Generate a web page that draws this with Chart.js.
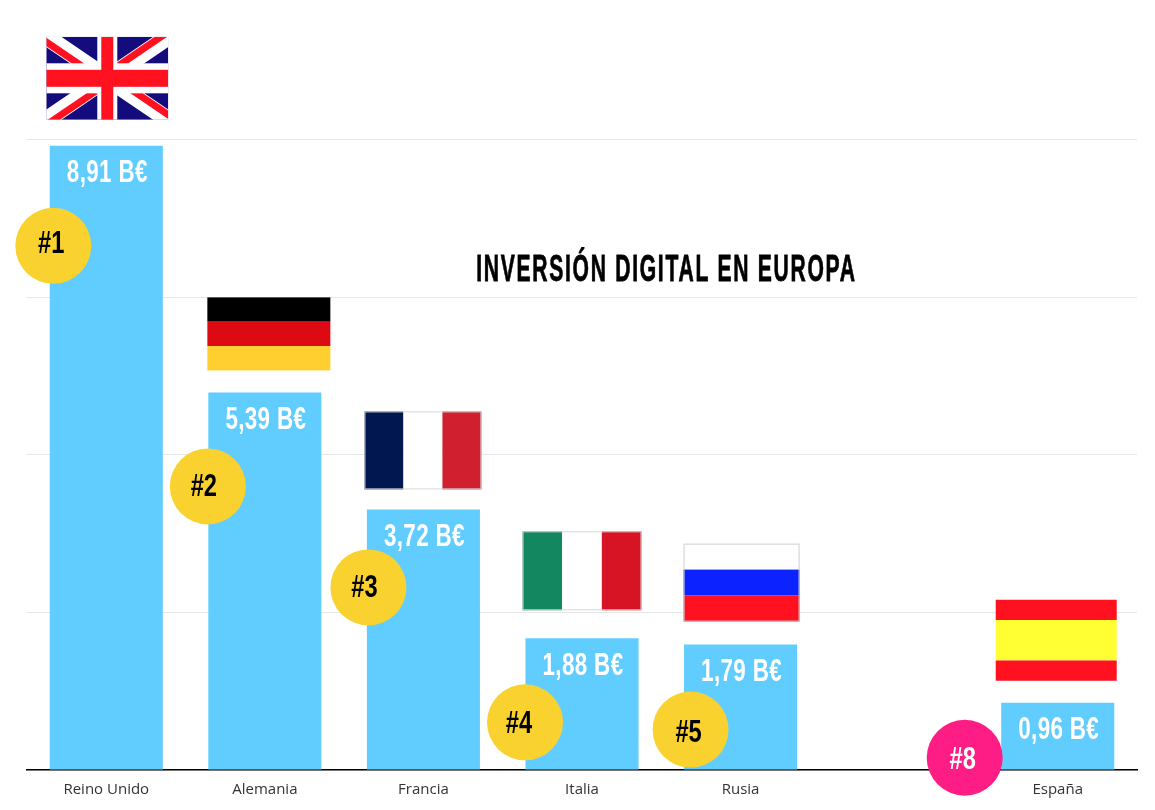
<!DOCTYPE html>
<html lang="es">
<head>
<meta charset="utf-8">
<title>Inversión digital en Europa</title>
<script src="https://cdn.jsdelivr.net/npm/chart.js@4/dist/chart.umd.min.js"></script>
<style>
  html, body { margin: 0; padding: 0; background: #fff; }
  canvas { display: block; }
</style>
</head>
<body>
<canvas id="grafico-inversion" width="1155" height="810"></canvas>
<script>
const paises = ['Reino Unido', 'Alemania', 'Francia', 'Italia', 'Rusia', '', 'España'];
const inversion = [8.91, 5.39, 3.72, 1.88, 1.79, null, 0.96];
const puestos = ['#1', '#2', '#3', '#4', '#5', '', '#8'];
const banderas = ['uk', 'de', 'fr', 'it', 'ru', '', 'es'];
const titulo = 'INVERSIÓN DIGITAL EN EUROPA';

const AZUL_BARRA = '#61cdff';
const AMARILLO = '#f9d22f';
const ROSA = '#fe1c85';

// Ajustes respecto a la barra: [dx, distancia sobre la barra, ancho, alto]
const ajusteBandera = {
  uk: [1, 26, 122, 83],
  de: [4, 22, 123, 73],
  fr: [-0.5, 20, 117, 78],
  it: [0, 28, 119, 79],
  ru: [1, 23, 116, 78],
  es: [-1.5, 22, 121, 81]
};
// Insignia: [dx, dy desde el tope de la barra, dx texto, dy texto]
const ajustePuesto = [
  [-53, 100, -2, -2],
  [-57, 94, -4, 1],
  [-55, 78, -4, 1],
  [-57, 84, -6, 2],
  [-50, 85, -2, 4],
  null,
  [-93, 55, -2, 2]
];

// Texto condensado (imita la tipografía estrecha del original)
function textoEstrecho(ctx, texto, x, y, tam, color, escala, espacio, grosor) {
  ctx.save();
  ctx.translate(x, y);
  ctx.scale(escala, 1);
  ctx.font = 'bold ' + tam + 'px "Liberation Sans"';
  ctx.letterSpacing = (espacio || 0) + 'px';
  ctx.textAlign = 'center';
  ctx.textBaseline = 'middle';
  ctx.fillStyle = color;
  ctx.fillText(texto, 0, 0);
  if (grosor) {
    ctx.strokeStyle = color;
    ctx.lineWidth = grosor;
    ctx.strokeText(texto, 0, 0);
  }
  ctx.restore();
}

function franjasV(ctx, x, y, w, h, colores) {
  colores.forEach(function(c, i) {
    ctx.fillStyle = c;
    ctx.fillRect(x + w * i / 3, y, w / 3, h);
  });
  ctx.strokeStyle = '#d8d8d8';
  ctx.lineWidth = 1;
  ctx.strokeRect(x + 0.5, y + 0.5, w - 1, h - 1);
}

function franjasH(ctx, x, y, w, h, colores, pesos) {
  let yy = y;
  colores.forEach(function(c, i) {
    ctx.fillStyle = c;
    ctx.fillRect(x, yy, w, h * pesos[i]);
    yy += h * pesos[i];
  });
}

function unionJack(ctx, x, y, w, h) {
  const cx = x + w / 2, cy = y + h / 2;
  ctx.save();
  ctx.beginPath();
  ctx.rect(x, y, w, h);
  ctx.clip();
  ctx.fillStyle = '#140c7c';
  ctx.fillRect(x, y, w, h);
  ctx.strokeStyle = '#fff';
  ctx.lineWidth = 17;
  ctx.beginPath();
  ctx.moveTo(x, y); ctx.lineTo(x + w, y + h);
  ctx.moveTo(x + w, y); ctx.lineTo(x, y + h);
  ctx.stroke();
  // Diagonales rojas, desplazadas en molinete
  const cuadrantes = [
    [x, y, -3, 3],
    [x + w, y, -3, -3],
    [x + w, y + h, 3, -3],
    [x, y + h, 3, 3]
  ];
  cuadrantes.forEach(function(q) {
    ctx.save();
    ctx.beginPath();
    ctx.rect(Math.min(q[0], cx), Math.min(q[1], cy), w / 2, h / 2);
    ctx.clip();
    ctx.strokeStyle = '#ff111f';
    ctx.lineWidth = 7;
    ctx.beginPath();
    ctx.moveTo(q[0] + q[2], q[1] + q[3]);
    ctx.lineTo(cx + q[2], cy + q[3]);
    ctx.stroke();
    ctx.restore();
  });
  ctx.fillStyle = '#fff';
  ctx.fillRect(cx - 10, y, 20, h);
  ctx.fillRect(x, cy - 15, w, 30);
  ctx.fillStyle = '#ff111f';
  ctx.fillRect(cx - 6, y, 12, h);
  ctx.fillRect(x, cy - 8.5, w, 17);
  ctx.restore();
}

function dibujarBandera(ctx, tipo, x, y, w, h) {
  if (tipo === 'uk') unionJack(ctx, x, y, w, h);
  if (tipo === 'de') franjasH(ctx, x, y, w, h, ['#000000', '#dd0a14', '#ffcf2f'], [1 / 3, 1 / 3, 1 / 3]);
  if (tipo === 'fr') franjasV(ctx, x, y, w, h, ['#00184f', '#ffffff', '#d0202f']);
  if (tipo === 'it') franjasV(ctx, x, y, w, h, ['#13875f', '#ffffff', '#d61423']);
  if (tipo === 'ru') {
    franjasH(ctx, x, y, w, h, ['#ffffff', '#0c22ff', '#ff111f'], [1 / 3, 1 / 3, 1 / 3]);
    ctx.strokeStyle = '#cfcfcf';
    ctx.lineWidth = 1;
    ctx.strokeRect(x + 0.5, y + 0.5, w - 1, h - 1);
  }
  if (tipo === 'es') franjasH(ctx, x, y, w, h, ['#ff111f', '#ffff33', '#ff111f'], [0.25, 0.5, 0.25]);
}

// Etiquetas, banderas, insignias y título encima de las barras
const decoracion = {
  id: 'decoracion',
  afterDraw: function(chart) {
    const ctx = chart.ctx;
    const barras = chart.getDatasetMeta(0).data;

    inversion.forEach(function(v, i) {
      if (v === null) return;
      const b = barras[i];
      const aj = ajusteBandera[banderas[i]];
      const w = aj[2], h = aj[3];
      dibujarBandera(ctx, banderas[i], b.x + aj[0] - w / 2, b.y - aj[1] - h, w, h);
      const texto = v.toFixed(2).replace('.', ',') + ' B€';
      textoEstrecho(ctx, texto, b.x + 1, b.y + 27.5, 32, '#fff', 0.7, 0.5);
    });

    inversion.forEach(function(v, i) {
      if (v === null) return;
      const b = barras[i];
      const p = ajustePuesto[i];
      const esEspana = paises[i] === 'España';
      ctx.beginPath();
      ctx.arc(b.x + p[0], b.y + p[1], 38, 0, Math.PI * 2);
      ctx.fillStyle = esEspana ? ROSA : AMARILLO;
      ctx.fill();
      textoEstrecho(ctx, puestos[i], b.x + p[0] + p[2], b.y + p[1] + p[3], 32, esEspana ? '#fff' : '#000', 0.74, 0);
    });

    textoEstrecho(ctx, titulo, 666.5, 271, 37, '#000', 0.57, 3, 0.8);
  }
};

const ctx = document.getElementById('grafico-inversion').getContext('2d');
new Chart(ctx, {
  type: 'bar',
  data: {
    labels: paises,
    datasets: [{
      data: inversion,
      backgroundColor: AZUL_BARRA,
      barPercentage: 0.713,
      categoryPercentage: 1
    }]
  },
  options: {
    responsive: false,
    animation: false,
    layout: { padding: { left: 27, right: 18, top: 139.5, bottom: 0 } },
    plugins: { legend: { display: false }, title: { display: false }, tooltip: { enabled: false } },
    scales: {
      x: {
        z: 1,
        grid: { display: false, drawTicks: false },
        border: { display: true, color: '#000', width: 1.5 },
        ticks: {
          color: '#333',
          padding: 11,
          maxRotation: 0,
          autoSkip: false,
          font: { family: '"Open Sans"', size: 15 }
        },
        afterFit: function(scale) { scale.height = 40; }
      },
      y: {
        min: 0,
        max: 9,
        grid: { color: '#e6e6e6', lineWidth: 1, drawTicks: false },
        border: { display: false },
        ticks: { display: false, stepSize: 2.25 },
        afterFit: function(scale) { scale.width = 0; }
      }
    }
  },
  plugins: [decoracion]
});
</script>
</body>
</html>
